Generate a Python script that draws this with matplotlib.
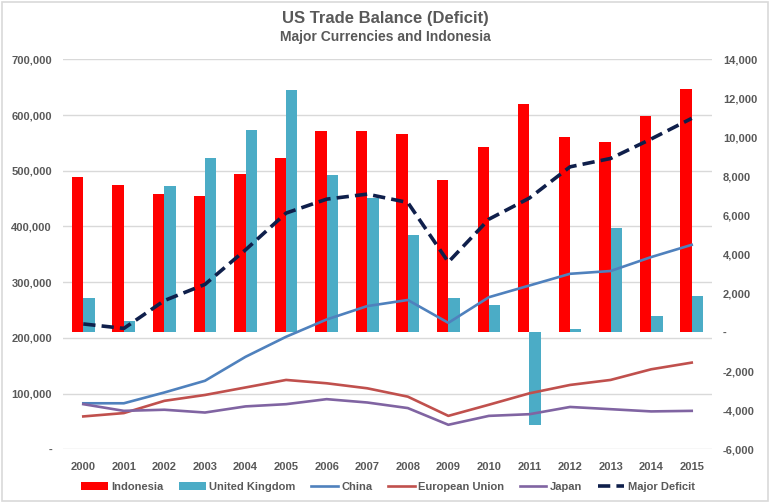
import matplotlib.pyplot as plt
from matplotlib.patches import Rectangle
from matplotlib.ticker import FuncFormatter
from matplotlib import font_manager

# Données
years = list(range(2000, 2016))

# barres, axe de droite
indonesia = [7970, 7550, 7080, 6990, 8120, 8940, 10310, 10310,
             10150, 7830, 9520, 11710, 10000, 9760, 11080, 12460]
united_kingdom = [1740, 600, 7520, 8940, 10360, 12440, 8090, 6870,
                  4990, 1780, 1400, -4770, 170, 5350, 840, 1850]

# lignes, axe de gauche
china = [82600, 82600, 102000, 123000, 166000, 202000, 233000, 257000,
         268000, 227000, 273000, 294000, 315000, 320000, 345000, 367000]
european_union = [59000, 65000, 87000, 97500, 111000, 124500, 118500, 109500,
                  94500, 60000, 80000, 100500, 115500, 124500, 143600, 155600]
japan = [81000, 69000, 71000, 66000, 77000, 81000, 90000, 84000,
         74000, 44000, 60000, 63000, 76000, 72000, 68000, 69000]
major_deficit = [225000, 217000, 267000, 296000, 358000, 424000, 449000, 458000,
                 443000, 336000, 413000, 451000, 507000, 522000, 557000, 594000]

gray = "#595959"
installed = {f.name for f in font_manager.fontManager.ttflist}
narrow = "Liberation Sans Narrow" if "Liberation Sans Narrow" in installed else "Liberation Sans"
plt.rcParams["font.family"] = ["Liberation Sans", "DejaVu Sans"]

fig = plt.figure(figsize=(7.7, 5.03), dpi=100)
pos = [63 / 770, 1 - 449.3 / 503, (712 - 63) / 770, (449.3 - 59.3) / 503]

# axe de fond : grille + graduations de gauche
ax = fig.add_axes(pos)
ax.set_xlim(-0.5, 15.5)
ax.set_ylim(0, 700000)
ax.set_yticks(range(0, 700001, 100000))
ax.yaxis.set_major_formatter(FuncFormatter(lambda v, p: "-" if v == 0 else f"{v:,.0f}"))
ax.grid(axis="y", color="#D9D9D9", lw=1)
ax.set_axisbelow(True)
ax.set_xticks(range(len(years)))
ax.set_xticklabels([str(y) for y in years])
for s in ax.spines.values():
    s.set_visible(False)
ax.tick_params(axis="both", length=0, colors=gray, labelsize=8)
ax.tick_params(axis="y", pad=8)
ax.tick_params(axis="x", pad=9)
for lab in ax.get_xticklabels() + ax.get_yticklabels():
    lab.set_fontweight("bold")

# barres sur l'axe de droite
ax2 = ax.twinx()
ax2.set_ylim(-6000, 14000)
ax2.set_yticks(range(-6000, 14001, 2000))
ax2.yaxis.set_major_formatter(FuncFormatter(lambda v, p: "-" if v == 0 else f"{v:,.0f}"))
x = list(range(len(years)))
w = 0.28
ax2.bar([i - w / 2 for i in x], indonesia, width=w, color="#FF0000", label="Indonesia")
ax2.bar([i + w / 2 for i in x], united_kingdom, width=w, color="#4BACC6", label="United Kingdom")
for s in ax2.spines.values():
    s.set_visible(False)
ax2.tick_params(axis="y", length=0, colors=gray, labelsize=8, pad=8)
for lab in ax2.get_yticklabels():
    lab.set_fontweight("bold")

# lignes sur un troisième axe (au-dessus des barres)
ax3 = ax.twinx()
ax3.set_ylim(0, 700000)
ax3.set_yticks([])
for s in ax3.spines.values():
    s.set_visible(False)
ax3.plot(x, china, color="#4F81BD", lw=1.9, label="China")
ax3.plot(x, european_union, color="#C0504D", lw=1.9, label="European Union")
ax3.plot(x, japan, color="#8064A2", lw=1.9, label="Japan")
ax3.plot(x, major_deficit, color="#0F1F4B", lw=2.6, ls=(0, (3.4, 1.7)), label="Major Deficit")

# légende
h2, l2 = ax2.get_legend_handles_labels()
h3, l3 = ax3.get_legend_handles_labels()
leg = fig.legend(h2 + h3, l2 + l3, loc="center", bbox_to_anchor=(388 / 770, 1 - 487 / 503),
                 ncol=6, frameon=False, fontsize=8, handlelength=2.4, handletextpad=0.3,
                 columnspacing=1.4, handleheight=0.8)
for t in leg.get_texts():
    t.set_color(gray)
    t.set_fontweight("bold")

# titres
fig.text(0.5, 1 - 19 / 503, "US Trade Balance (Deficit)", ha="center", va="center",
         fontsize=12, fontweight="bold", color=gray, family=[narrow, "DejaVu Sans"])
fig.text(0.5, 1 - 37 / 503, "Major Currencies and Indonesia", ha="center", va="center",
         fontsize=10, fontweight="bold", color=gray, family=[narrow, "DejaVu Sans"])

# cadre du graphique
fig.patches.append(Rectangle((0.002, 0.003), 0.996, 0.994, transform=fig.transFigure,
                             fill=False, edgecolor="#D9D9D9", lw=1.2))

fig.savefig("out.png", dpi=100)
